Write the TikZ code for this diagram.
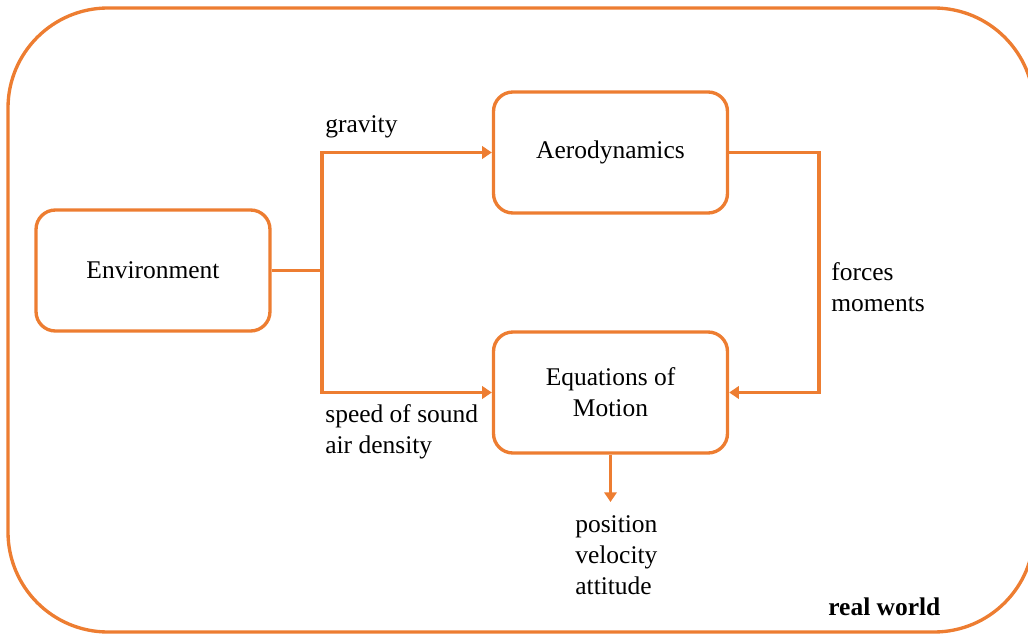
\documentclass[tikz,border=0pt]{standalone}
\usepackage{fontspec}
\setmainfont{Liberation Serif}
\usetikzlibrary{arrows.meta}
\definecolor{SimOrange}{HTML}{ED7D31}

\tikzset{
  block/.style={draw=SimOrange, line width=1.9pt, rounded corners=11pt,
    minimum width=4.68cm, minimum height=2.42cm, align=center,
    font=\fontsize{14.5}{17.5}\selectfont},
  flow/.style={SimOrange, line width=1.9pt, -{Triangle[length=5.5pt,width=7pt]}},
  wire/.style={SimOrange, line width=1.9pt},
  lbl/.style={anchor=west, align=left, inner sep=0pt,
    font=\fontsize{14.5}{17.5}\selectfont}
}

\begin{document}
\begin{tikzpicture}[x=0.02cm, y=-0.02cm]
  \useasboundingbox (0,0) rectangle (1028,635);
  \clip (0,0) rectangle (1028,635);
  % outer frame, runs past the right edge of the page
  \draw[wire, rounded corners=2cm] (8,8) rectangle (1034,632);
  % blocks
  \node[block] (env)  at (153,270.5) {Environment};
  \node[block] (aero) at (610.5,152.5) {Aerodynamics};
  \node[block] (eom)  at (610.5,392.5) {Equations of\\Motion};
  % split point and output end
  \coordinate (split) at (322,270.5);
  \coordinate (outtip) at (610.5,502);
  % connectors
  \draw[wire] (env.east) -- (split);
  \draw[flow] (split) |- (aero.west);
  \draw[flow] (split) |- (eom.west);
  \draw[flow] (aero.east) -- ++(90,0) |- (eom.east);
  \draw[flow] (eom.south) -- (outtip);
  % labels
  \node[lbl] (grav) at (325,127) {gravity};
  \node[lbl] (atmo) at (325,432) {speed of sound\\air density};
  \node[lbl] (load) at (831,287) {forces\\moments};
  \node[lbl] (state) at (575,555) {position\\velocity\\attitude};
  \node[lbl, font=\fontsize{14.5}{17.5}\selectfont\bfseries] (world) at (828,607) {real world};
\end{tikzpicture}
\end{document}
